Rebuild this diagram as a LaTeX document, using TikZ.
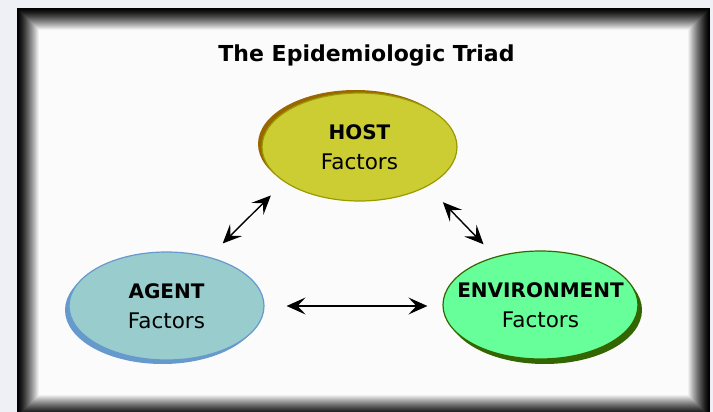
\documentclass[tikz,border=0pt]{standalone}
\usepackage{fontspec}
\setmainfont{DejaVu Sans}
\usetikzlibrary{shapes.geometric,shadows,arrows.meta}

\definecolor{pagebg}{HTML}{EEF0F5}
\definecolor{paper}{HTML}{FBFBFB}
\definecolor{hostfill}{HTML}{CCCC33}
\definecolor{hostline}{HTML}{999900}
\definecolor{hostshade}{HTML}{996600}
\definecolor{agentfill}{HTML}{99CCCC}
\definecolor{agentline}{HTML}{6699CC}
\definecolor{envfill}{HTML}{66FF99}
\definecolor{envline}{HTML}{336600}

\newcommand{\factorname}[1]{\textbf{\fontsize{20}{30}\selectfont #1}}

\tikzset{
  factor/.style={ellipse, draw, line width=1.2pt, minimum width=195pt,
    minimum height=108pt, inner sep=-20pt, align=center,
    font=\fontsize{21.5}{30}\selectfont},
  link/.style={line width=1.4pt,
    {Stealth[length=19pt,width=17pt,inset=8pt]}-{Stealth[length=19pt,width=17pt,inset=8pt]}},
}

\begin{document}
\begin{tikzpicture}[x=1pt,y=-1pt]
  \useasboundingbox (0,0) rectangle (713,412);
  \clip (0,0) rectangle (713,412);
  \fill[pagebg] (0,0) rectangle (713,412);

  %% bevelled frame: dark rim fading into the paper
  \foreach \i in {0,...,22} {
    \pgfmathsetmacro{\lvl}{100*(\i/22)^1.3}
    \fill[white!\lvl!black] (17+\i,8+\i) rectangle (710-\i,417-\i);
  }
  \fill[paper] (39,30) rectangle (688,395);

  \node (title) at (366.5,62) [anchor=base,font=\fontsize{22}{26}\selectfont\bfseries]
    {The Epidemiologic Triad};

  %% the three corners of the triad
  \node (host) at (359.5,147) [factor, fill=hostfill, draw=hostline,
    drop shadow={shadow xshift=-4pt, shadow yshift=3pt, fill=hostshade, opacity=1}]
    {\factorname{HOST}\\Factors};
  \node (agent) at (166.5,306) [factor, fill=agentfill, draw=agentline,
    drop shadow={shadow xshift=-4pt, shadow yshift=-4pt, fill=agentline, opacity=1}]
    {\factorname{AGENT}\\Factors};
  \node (env) at (540.5,305) [factor, fill=envfill, draw=envline,
    drop shadow={shadow xshift=4pt, shadow yshift=-5pt, fill=envline, opacity=1}]
    {\factorname{ENVIRONMENT}\\Factors};

  \draw[link, shorten <=19pt, shorten >=19pt] (host.205) -- (agent.49);
  \draw[link, shorten <=22pt, shorten >=17pt] (host.330) -- (env.133);
  \draw[link, shorten <=22pt, shorten >=15pt] (agent.east) -- (agent.east -| env.west);

\end{tikzpicture}
\end{document}
